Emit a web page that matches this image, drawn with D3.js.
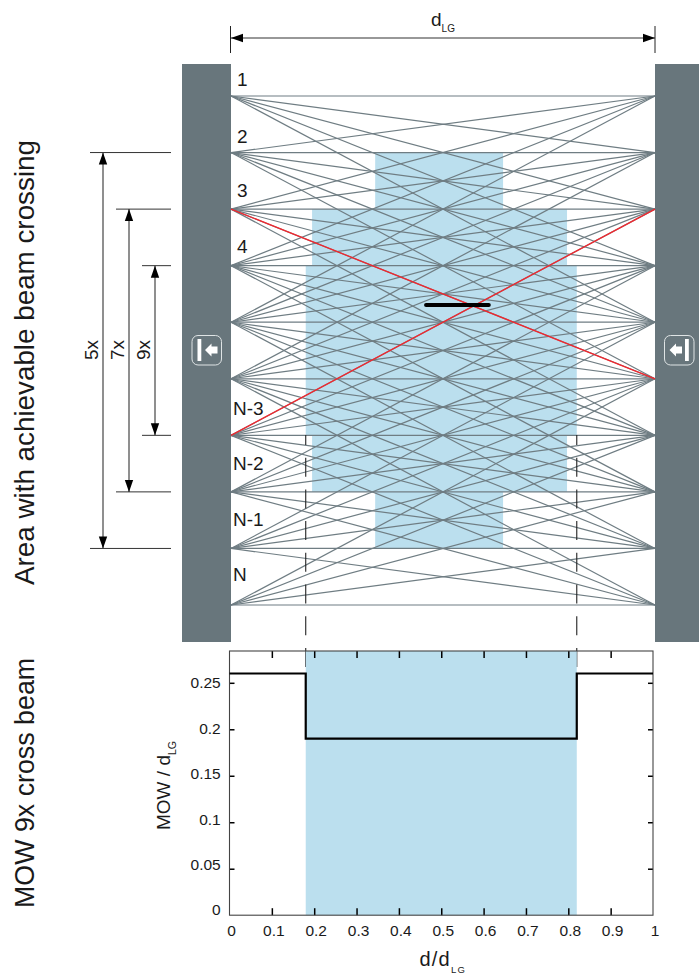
<!DOCTYPE html>
<html>
<head>
<meta charset="utf-8">
<script src="https://cdn.jsdelivr.net/npm/d3@7"></script>
<style>
  html, body { margin: 0; padding: 0; background: #fff; }
  svg { display: block; }
  text { font-family: "Liberation Sans", sans-serif; fill: #1a1a1a; }
</style>
</head>
<body>
<svg id="chart" width="699" height="977"></svg>
<script>
// beam numbers of the light grid, top to bottom
const beams = [1, 2, 3, 4, 5, 6, 7, 8, 9, 10];
const beamOffsets = [-4, -3, -2, -1, 0, 1, 2, 3, 4];
const redBeams = [[3, 6], [7, 3]];

// names written in the gaps, and the beam each one sits above
const gapLabels = ['1', '2', '3', '4', 'N-3', 'N-2', 'N-1', 'N'];
const gapBeams = [1, 2, 3, 4, 7, 8, 9, 10];

// blue area of achievable crossing: from beam, to beam, d/dLG start, d/dLG end
const areaFrom = [2, 3, 4, 7, 8];
const areaTo = [3, 4, 7, 8, 9];
const areaStart = [0.344, 0.195, 0.18, 0.195, 0.344];
const areaEnd = [0.646, 0.797, 0.82, 0.797, 0.646];

const spanNames = ['5x', '7x', '9x'];
const spanFrom = [2, 3, 4];
const spanTo = [9, 8, 7];

// MOW curve
const mowD = [0, 0.18, 0.18, 0.82, 0.82, 1];
const mowV = [0.26, 0.26, 0.19, 0.19, 0.26, 0.26];
const xTicks = [0, 0.1, 0.2, 0.3, 0.4, 0.5, 0.6, 0.7, 0.8, 0.9, 1];
const yTicks = [0, 0.05, 0.1, 0.15, 0.2, 0.25];

const WALL = '#68767c', BEAM = '#6f7d83', BLUE = '#bbdfee', RED = '#f2272e';

const svg = d3.select('#chart');

const defs = svg.append('defs');
function arrowMarker(id, path) {
  defs.append('marker')
    .attr('id', id)
    .attr('viewBox', '0 0 12 10')
    .attr('refX', id === 'arrowStart' ? 0 : 12)
    .attr('refY', 5)
    .attr('markerUnits', 'userSpaceOnUse')
    .attr('markerWidth', 12)
    .attr('markerHeight', 10)
    .attr('orient', 'auto')
    .append('path')
    .attr('d', path)
    .attr('fill', '#000');
}
arrowMarker('arrowStart', 'M0,5L12,0.8V9.2Z');
arrowMarker('arrowEnd', 'M12,5L0,0.8V9.2Z');

// scales: the grid x runs wall to wall, the plot x sits on the frame
const gridX = d3.scaleLinear().domain([0, 1]).range([231, 655]);
const beamY = d3.scaleLinear().domain([1, 10]).range([96, 605]);
const x = d3.scaleLinear().domain([0, 1]).range([229.5, 653]);
const y = d3.scaleLinear().domain([0, 0.25]).range([915.2, 682.8]);
const yLabel = d3.scaleLinear().domain([0, 0.25]).range([910, 682.7]);

// blue area
svg.append('g')
  .selectAll('rect')
  .data(areaFrom)
  .enter()
  .append('rect')
  .attr('x', (d, i) => x(areaStart[i]))
  .attr('y', d => beamY(d))
  .attr('width', (d, i) => x(areaEnd[i]) - x(areaStart[i]))
  .attr('height', (d, i) => beamY(areaTo[i]) - beamY(d))
  .attr('fill', BLUE);

// walls
[[182, 231], [655, 699]].forEach(w => {
  svg.append('rect')
    .attr('x', w[0]).attr('y', 64)
    .attr('width', w[1] - w[0]).attr('height', 578)
    .attr('fill', WALL);
});

// all beam pairs
const pairs = [];
beams.forEach(a => beamOffsets.forEach(o => {
  if (beams.includes(a + o)) pairs.push([a, a + o]);
}));

svg.append('g')
  .selectAll('line')
  .data(pairs)
  .enter()
  .append('line')
  .attr('x1', gridX(0)).attr('x2', gridX(1))
  .attr('y1', d => beamY(d[0]))
  .attr('y2', d => beamY(d[1]))
  .attr('stroke', BEAM)
  .attr('stroke-width', 1.2);

svg.append('g')
  .selectAll('line')
  .data(redBeams)
  .enter()
  .append('line')
  .attr('x1', gridX(0)).attr('x2', gridX(1))
  .attr('y1', d => beamY(d[0]))
  .attr('y2', d => beamY(d[1]))
  .attr('stroke', RED)
  .attr('stroke-width', 1.3);

// the test rod
svg.append('line')
  .attr('x1', gridX(0.46)).attr('x2', gridX(0.608))
  .attr('y1', 305).attr('y2', 305)
  .attr('stroke', '#000')
  .attr('stroke-width', 4)
  .attr('stroke-linecap', 'round');

// beam numbers; the labels do not sit evenly in the original
const labelRaise = [10, 10, 12, 13, 20, 22, 22, 24];
svg.append('g')
  .selectAll('text')
  .data(gapLabels)
  .enter()
  .append('text')
  .attr('x', d => d.startsWith('N') ? 233 : 237)
  .attr('y', (d, i) => beamY(gapBeams[i]) - labelRaise[i])
  .attr('font-size', 19)
  .text(d => d);

// dashed guide lines from grid to plot
[0.18, 0.82].forEach(v => {
  svg.append('line')
    .attr('x1', x(v)).attr('x2', x(v))
    .attr('y1', 435).attr('y2', 667)
    .attr('stroke', '#222')
    .attr('stroke-width', 1.1)
    .attr('stroke-dasharray', '19 12.7')
    .attr('stroke-dashoffset', 9);
});

// dLG dimension on top
function subLabel(sel, main, sub, size, subSize) {
  sel.append('tspan').attr('font-size', size).text(main);
  sel.append('tspan').attr('font-size', subSize).attr('dy', size * 0.33).text(sub);
}
svg.append('line')
  .attr('x1', gridX(0)).attr('x2', gridX(1))
  .attr('y1', 38).attr('y2', 38)
  .attr('stroke', '#333').attr('stroke-width', 1.1)
  .attr('marker-start', 'url(#arrowStart)')
  .attr('marker-end', 'url(#arrowEnd)');
[gridX(0) - 0.5, gridX(1)].forEach(px => {
  svg.append('line')
    .attr('x1', px).attr('x2', px)
    .attr('y1', 26).attr('y2', 53)
    .attr('stroke', '#222').attr('stroke-width', 1);
});
subLabel(svg.append('text').attr('x', 431).attr('y', 26), 'd', 'LG', 19, 10);

// span dimensions on the left
spanNames.forEach((name, i) => {
  const ax = 103 + i * 26;
  [spanFrom[i], spanTo[i]].forEach(b => {
    svg.append('line')
      .attr('x1', ax - 13).attr('x2', 171)
      .attr('y1', beamY(b)).attr('y2', beamY(b))
      .attr('stroke', '#333').attr('stroke-width', 1);
  });
  svg.append('line')
    .attr('x1', ax).attr('x2', ax)
    .attr('y1', beamY(spanFrom[i])).attr('y2', beamY(spanTo[i]))
    .attr('stroke', '#333').attr('stroke-width', 1.1)
    .attr('marker-start', 'url(#arrowStart)')
    .attr('marker-end', 'url(#arrowEnd)');
  svg.append('text')
    .attr('transform', `translate(${ax - 5.5},350) rotate(-90)`)
    .attr('text-anchor', 'middle')
    .attr('font-size', 19)
    .text(name);
});

// sender / receiver icons on the walls
function wallIcon(left, barX, tipX) {
  const g = svg.append('g');
  g.append('rect')
    .attr('x', left).attr('y', 335.5)
    .attr('width', 29.5).attr('height', 29.5)
    .attr('rx', 6)
    .attr('fill', 'none')
    .attr('stroke', '#dfe4e5')
    .attr('stroke-width', 1);
  g.append('rect')
    .attr('x', barX).attr('y', 339)
    .attr('width', 3.8).attr('height', 22)
    .attr('fill', '#fff');
  g.append('path')
    .attr('d', d3.line()([
      [tipX, 350], [tipX + 6.5, 343.5], [tipX + 6.5, 346.5],
      [tipX + 12.5, 346.5], [tipX + 12.5, 353.5],
      [tipX + 6.5, 353.5], [tipX + 6.5, 356.5]
    ]) + 'Z')
    .attr('fill', '#fff');
}
wallIcon(192, 197.5, 205);
wallIcon(664.5, 685, 669.5);

// plot
const plot = svg.append('g');
plot.append('rect')
  .attr('x', x(0.18)).attr('y', 651)
  .attr('width', x(0.82) - x(0.18)).attr('height', y(0) - 651)
  .attr('fill', BLUE);

const axisStyle = g => {
  g.selectAll('.tick line').attr('stroke', '#000').attr('stroke-width', 1.5);
  g.selectAll('.domain').attr('stroke', 'none');
  g.selectAll('.tick text')
    .attr('font-family', '"Liberation Sans", sans-serif')
    .attr('font-size', 15.5)
    .attr('fill', '#222');
};
const fmt = d => String(d);

plot.append('g')
  .attr('transform', `translate(0,${y(0)})`)
  .call(d3.axisBottom(x).tickValues(xTicks).tickFormat(fmt).tickSizeInner(-7).tickSizeOuter(0).tickPadding(10))
  .call(axisStyle)
  .call(g => g.selectAll('.tick').filter(d => d === 0 || d === 1).select('line').remove())
  .call(g => g.selectAll('.tick text').attr('dx', 1.5));

plot.append('g')
  .attr('transform', 'translate(0,651)')
  .call(d3.axisTop(x).tickValues(xTicks).tickFormat('').tickSizeInner(-7).tickSizeOuter(0))
  .call(axisStyle)
  .call(g => g.selectAll('.tick').filter(d => d === 0 || d === 1).select('line').remove());

plot.append('g')
  .attr('transform', `translate(${x(0)},0)`)
  .call(d3.axisLeft(y).tickValues(yTicks).tickFormat(fmt).tickSizeInner(-5).tickSizeOuter(0).tickPadding(8.8))
  .call(axisStyle)
  .call(g => g.selectAll('.tick').filter(d => d === 0).select('line').remove())
  .call(g => g.selectAll('.tick text').attr('y', d => yLabel(d) - y(d)));

plot.append('g')
  .attr('transform', `translate(${x(1)},0)`)
  .call(d3.axisRight(y).tickValues(yTicks).tickFormat('').tickSizeInner(-5).tickSizeOuter(0))
  .call(axisStyle)
  .call(g => g.selectAll('.tick').filter(d => d === 0).select('line').remove());

// frame
plot.append('rect')
  .attr('x', x(0)).attr('y', 651)
  .attr('width', x(1) - x(0)).attr('height', y(0) - 651)
  .attr('fill', 'none')
  .attr('stroke', '#444')
  .attr('stroke-width', 1.1);

plot.append('path')
  .attr('d', d3.line().x(d => x(d)).y((d, i) => y(mowV[i]))(mowD))
  .attr('fill', 'none')
  .attr('stroke', '#000')
  .attr('stroke-width', 2.2);

subLabel(svg.append('text').attr('x', 419.5).attr('y', 966).attr('letter-spacing', 1.2), 'd/d', 'LG', 20, 9.5);
subLabel(svg.append('text').attr('transform', 'translate(170,830) rotate(-90)'), 'MOW / d', 'LG', 19, 10.5);

// big side titles
svg.append('text')
  .attr('transform', 'translate(33.5,585) rotate(-90)')
  .attr('font-size', 27.8)
  .text('Area with achievable beam crossing');
svg.append('text')
  .attr('transform', 'translate(33.5,908) rotate(-90)')
  .attr('font-size', 26.8)
  .text('MOW 9x cross beam');
</script>
</body>
</html>
